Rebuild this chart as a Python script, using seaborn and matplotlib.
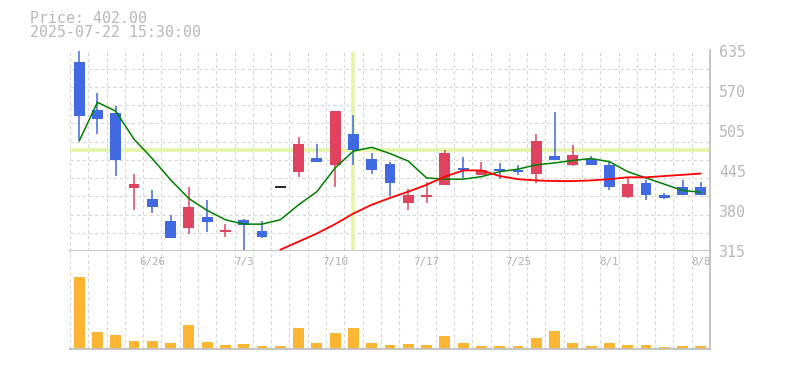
import numpy as np
import pandas as pd
import matplotlib
matplotlib.use('Agg')
import matplotlib.pyplot as plt
import seaborn as sns

# daily candles
dates = ['6/20', '6/23', '6/24', '6/25', '6/26', '6/27', '6/30', '7/1', '7/2', '7/3',
         '7/4', '7/7', '7/8', '7/9', '7/10', '7/11', '7/14', '7/15', '7/16', '7/17',
         '7/18', '7/22', '7/23', '7/24', '7/25', '7/28', '7/29', '7/30', '7/31', '8/1',
         '8/4', '8/5', '8/6', '8/7', '8/8']
shown_dates = ['6/26', '7/3', '7/10', '7/17', '7/25', '8/1', '8/8']

opens = [618, 541, 536, 416, 398, 363, 352, 369, 346, 365, 347, 418, 442, 464, 452, 502, 462, 454,
         392, 402, 420, 448, 436, 446, 445, 439, 467, 453, 462, 453, 402, 424, 404, 417, 417]
highs = [640, 568, 547, 438, 413, 372, 417, 397, 358, 366, 363, 418, 497, 486, 539, 533, 472, 458,
         415, 426, 477, 465, 457, 456, 453, 502, 537, 485, 467, 458, 432, 429, 408, 429, 425]
lows = [493, 502, 435, 381, 376, 336, 342, 345, 338, 316, 336, 418, 433, 458, 418, 452, 439, 403,
        381, 392, 420, 432, 436, 431, 436, 424, 461, 451, 452, 412, 400, 396, 399, 404, 404]
closes = [531, 526, 461, 422, 385, 336, 385, 362, 349, 356, 337, 418, 486, 458, 539, 476, 445, 424,
          405, 404, 472, 444, 445, 443, 442, 491, 461, 469, 452, 418, 422, 405, 400, 404, 404]

ma_short = [491, 553, 539, 494, 463, 429, 399, 380, 365, 358, 358, 365, 389, 410, 448, 475, 481, 471,
            459, 432, 430, 430, 434, 442, 446, 453, 456, 460, 463, 458, 442, 432, 422, 412, 409]
ma_long = [np.nan] * 11 + [317, 330, 343, 358, 375, 389, 400, 410, 421, 434, 444, 444, 435, 430,
                           428, 427, 427, 428, 430, 433, 433, 435, 437, 439]

volumes = [215, 50, 43, 25, 25, 19, 73, 22, 13, 16, 10, 10, 64, 19, 49, 64, 19, 13, 16, 13,
           40, 19, 10, 10, 10, 34, 55, 19, 10, 19, 13, 13, 7, 10, 10]

y_ticks = [315, 379, 443, 507, 571, 635]
y_labels = ['315', '380', '445', '505', '570', '635']

cross_idx = 15
cross_price = 476

df = pd.DataFrame({'date': dates, 'open': opens, 'high': highs, 'low': lows, 'close': closes,
                   'ma5': ma_short, 'ma25': ma_long, 'volume': volumes})
df['i'] = np.arange(len(df))

sns.set_style('white')
plt.rcParams['font.family'] = ['DejaVu Sans Mono', 'DejaVu Sans']

BLUE = '#4169e1'
RED = '#e0435f'
GRID = '#d6d6d6'
AXIS = '#c0c0c0'
TEXT = '#b8b8b8'

fig = plt.figure(figsize=(7.85, 3.7), dpi=100)
ax = fig.add_axes([70 / 785, 1 - 251 / 370, 640 / 785, 200.5 / 370])
axv = fig.add_axes([70 / 785, 1 - 349 / 370, 640 / 785, 98 / 370])

n = len(df)
for a in (ax, axv):
    a.set_xlim(-0.5, n - 0.5)
    for s in ('left', 'top'):
        a.spines[s].set_visible(False)
    for s in ('right', 'bottom'):
        a.spines[s].set_color(AXIS)
        a.spines[s].set_linewidth(1.3)

# price panel
ax.set_ylim(315, 636)
ax.set_xticks(np.arange(n + 1) - 0.5, minor=True)
ax.set_yticks(np.linspace(315, 636, 12), minor=True)
ax.grid(True, which='minor', color=GRID, linestyle=(0, (3, 2.5)), lw=0.8, zorder=0)
ax.grid(False, which='major')
ax.set_axisbelow(True)
ax.set_yticks(y_ticks)
ax.set_yticklabels(y_labels)
ax.yaxis.tick_right()
ax.tick_params(axis='y', which='both', length=0, pad=6.5, labelsize=10.8, labelcolor=TEXT)
ax.tick_params(axis='x', which='both', length=0)

# crosshair
ax.axhline(cross_price, color='#e3f5a8', lw=2.6, zorder=1)
ax.vlines(cross_idx, 316, 634, color='#e3f5a8', lw=2.6, zorder=1)

for _, r in df.iterrows():
    if r['close'] > r['open']:
        c = RED
    elif r['close'] < r['open']:
        c = BLUE
    else:
        c = 'black'
    ax.vlines(r['i'], r['low'], r['high'], color=c, lw=1.1, zorder=2)
    if r['close'] == r['open']:
        ax.hlines(r['open'], r['i'] - 0.3, r['i'] + 0.3, color=c, lw=1.2, zorder=3)
    else:
        lo = min(r['open'], r['close'])
        ax.bar(r['i'], abs(r['close'] - r['open']), bottom=lo, width=0.6, color=c,
               linewidth=0, zorder=3)

sns.lineplot(data=df, x='i', y='ma5', ax=ax, color='#008000', lw=1.1, zorder=4)
sns.lineplot(data=df.dropna(subset=['ma25']), x='i', y='ma25', ax=ax, color='#ff0000', lw=1.3, zorder=4)
ax.set_xlabel('')
ax.set_ylabel('')
ax.set_xlim(-0.5, n - 0.5)
ax.set_xticks([])
ax.set_xticks(np.arange(n + 1) - 0.5, minor=True)
ax.tick_params(axis='x', which='both', length=0, labelbottom=False)

# volume panel
sns.barplot(data=df, x='i', y='volume', ax=axv, color='#fcb634', width=0.6, saturation=1,
            linewidth=0, native_scale=True, zorder=2)
axv.set_xlim(-0.5, n - 0.5)
axv.set_ylim(0, 294)
axv.set_xticks([])
axv.set_xticks(np.arange(n + 1) - 0.5, minor=True)
axv.grid(True, which='minor', axis='x', color=GRID, linestyle=(0, (3, 2.5)), lw=0.8, zorder=0)
axv.set_axisbelow(True)
axv.tick_params(axis='x', which='both', length=0, labelbottom=False)
axv.set_yticks([])
axv.set_xlabel('')
axv.set_ylabel('')
for lab in shown_dates:
    axv.text(dates.index(lab), 0.885, lab, transform=axv.get_xaxis_transform(),
             ha='center', va='center', fontsize=7.8, color='#b0b0b0')

fig.text(30 / 785, 1 - 23 / 370, 'Price: 402.00', fontsize=10.7, color=TEXT, va='baseline')
fig.text(30 / 785, 1 - 37 / 370, '2025-07-22 15:30:00', fontsize=10.7, color=TEXT, va='baseline')

fig.savefig('out.png', dpi=100)
